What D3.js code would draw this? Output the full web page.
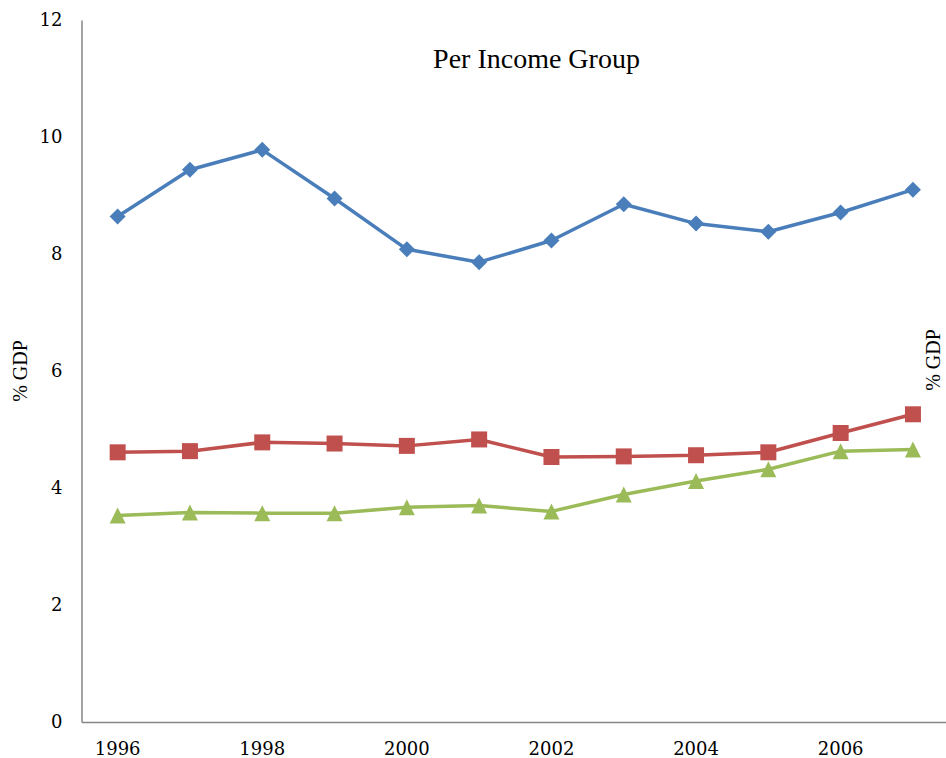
<!DOCTYPE html>
<html>
<head>
<meta charset="utf-8">
<script src="https://cdn.jsdelivr.net/npm/d3@7"></script>
<style>
  html, body { margin: 0; padding: 0; background: #fff; }
  svg { display: block; }
</style>
</head>
<body>
<div id="chart"></div>
<script>
const years = [1996, 1997, 1998, 1999, 2000, 2001, 2002, 2003, 2004, 2005, 2006, 2007];
const xTickLabels = [1996, 1998, 2000, 2002, 2004, 2006];
const yTickValues = [0, 2, 4, 6, 8, 10, 12];
const seriesHigh = [8.64, 9.44, 9.78, 8.95, 8.08, 7.86, 8.23, 8.85, 8.52, 8.38, 8.71, 9.10];
const seriesMid = [4.61, 4.63, 4.78, 4.76, 4.72, 4.83, 4.53, 4.54, 4.56, 4.61, 4.94, 5.26];
const seriesLow = [3.53, 3.58, 3.57, 3.57, 3.67, 3.70, 3.60, 3.89, 4.12, 4.32, 4.63, 4.66];
const titleText = "Per Income Group";
const axisTitle = "% GDP";

const W = 946, H = 758;
const svg = d3.select("#chart").append("svg").attr("width", W).attr("height", H);

const x0 = 81.5, step = 72.3;
const x = d3.scaleBand().domain(years).range([x0, x0 + step * years.length]).padding(0);
const y = d3.scaleLinear().domain([0, 12]).range([722, 20]);

const cx = d => x(d) + x.bandwidth() / 2;

// axes
const yAxis = d3.axisLeft(y).tickValues(yTickValues).tickSize(0).tickSizeOuter(0).tickPadding(19);
const gy = svg.append("g").attr("transform", `translate(${x0},0)`).call(yAxis);
gy.select(".domain").attr("stroke", "#868686").attr("stroke-width", 1.5);
gy.selectAll("text").attr("font-family", "'DejaVu Serif', serif").attr("font-size", 18).attr("fill", "#000");

const xAxis = d3.axisBottom(x).tickValues(xTickLabels).tickSize(0).tickSizeOuter(0).tickPadding(20);
const gx = svg.append("g").attr("transform", `translate(0,${y(0)})`).call(xAxis);
gx.select(".domain").attr("stroke", "#868686").attr("stroke-width", 1.5);
gx.selectAll("text").attr("font-family", "'DejaVu Serif', serif").attr("font-size", 18).attr("fill", "#000");

// titles
svg.append("text").attr("x", 536.5).attr("y", 68).attr("text-anchor", "middle")
  .attr("font-family", "'Liberation Serif', serif").attr("font-size", 28).attr("fill", "#000").text(titleText);

svg.append("text").attr("transform", "translate(27,371) rotate(-90)").attr("text-anchor", "middle")
  .attr("font-family", "'Liberation Serif', serif").attr("font-size", 20).attr("fill", "#000").text(axisTitle);
svg.append("text").attr("transform", "translate(940,360) rotate(-90)").attr("text-anchor", "middle")
  .attr("font-family", "'Liberation Serif', serif").attr("font-size", 20).attr("fill", "#000").text(axisTitle);

// custom marker shapes (size = full width in px)
const diamondType = { draw(ctx, s) { const r = s / 2; ctx.moveTo(0, -r); ctx.lineTo(r, 0); ctx.lineTo(0, r); ctx.lineTo(-r, 0); ctx.closePath(); } };
const squareType = { draw(ctx, s) { const r = s / 2; ctx.rect(-r, -r, s, s); } };
const triangleType = { draw(ctx, s) { const r = s / 2; ctx.moveTo(0, -r); ctx.lineTo(r, r); ctx.lineTo(-r, r); ctx.closePath(); } };

const line = d3.line().x((d, i) => cx(years[i])).y(d => y(d));

const series = [
  { values: seriesHigh, color: "#4A7EBB", symbol: diamondType, size: 16 },
  { values: seriesMid, color: "#C0504D", symbol: squareType, size: 16 },
  { values: seriesLow, color: "#9BBB59", symbol: triangleType, size: 16 }
];

series.forEach(s => {
  svg.append("path").datum(s.values).attr("d", line)
    .attr("fill", "none").attr("stroke", s.color).attr("stroke-width", 3.5).attr("stroke-linejoin", "round");
  svg.append("g").selectAll("path").data(s.values).join("path")
    .attr("transform", (d, i) => `translate(${cx(years[i])},${y(d)})`)
    .attr("d", d3.symbol().type(s.symbol).size(s.size))
    .attr("fill", s.color);
});
</script>
</body>
</html>
